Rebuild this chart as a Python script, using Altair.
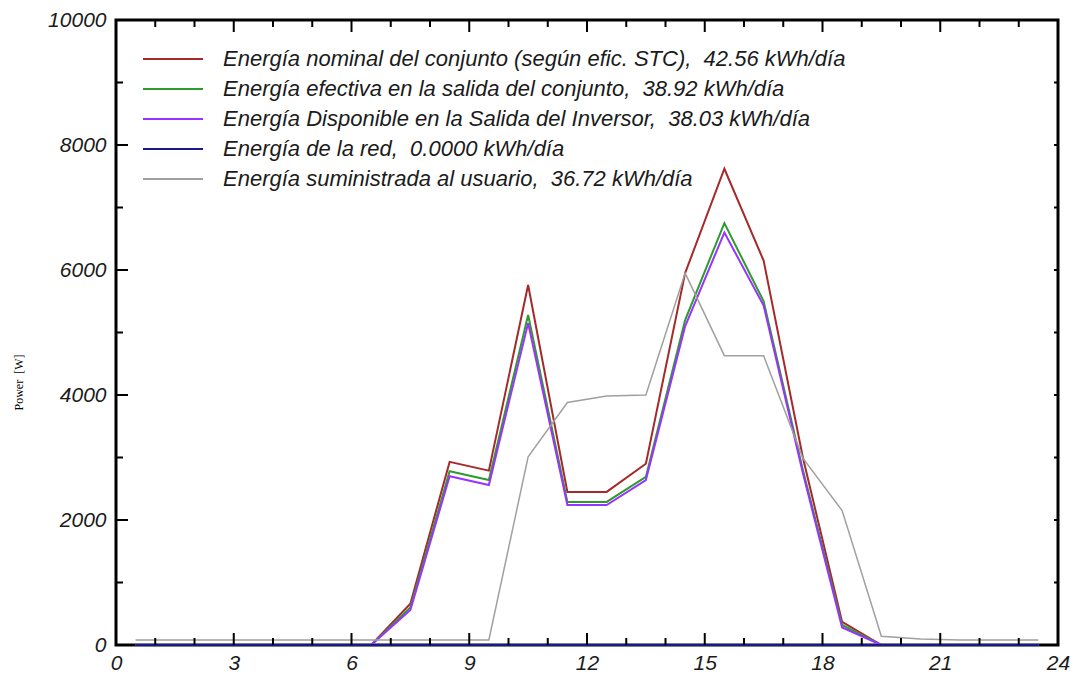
import altair as alt
import pandas as pd

hours = [h + 0.5 for h in range(24)]

labels = [
    "Energía nominal del conjunto (según efic. STC),\u00a0 42.56 kWh/día",
    "Energía efectiva en la salida del conjunto,\u00a0 38.92 kWh/día",
    "Energía Disponible en la Salida del Inversor,\u00a0 38.03 kWh/día",
    "Energía de la red,\u00a0 0.0000 kWh/día",
    "Energía suministrada al usuario,\u00a0 36.72 kWh/día",
]
colors = ["#A52A2A", "#2E9B2E", "#9933FF", "#1A1A8C", "#A0A0A0"]
widths = [2, 2, 2, 2, 1.5]

nominal = [0, 0, 0, 0, 0, 0, 0, 660, 2930, 2790, 5760, 2450, 2450, 2900, 5950, 7620, 6150, 3000, 370, 0, 0, 0, 0, 0]
efectiva = [0, 0, 0, 0, 0, 0, 0, 600, 2780, 2640, 5280, 2290, 2290, 2690, 5200, 6750, 5500, 2800, 320, 0, 0, 0, 0, 0]
disponible = [0, 0, 0, 0, 0, 0, 0, 560, 2700, 2560, 5150, 2240, 2240, 2640, 5100, 6600, 5430, 2750, 280, 0, 0, 0, 0, 0]
red = [0] * 24
usuario = [80, 80, 80, 80, 80, 80, 80, 80, 80, 80, 3010, 3880, 3985, 4000, 5950, 4630, 4630, 2990, 2150, 140, 95, 80, 80, 80]

series = [nominal, efectiva, disponible, red, usuario]

x_major = [0, 3, 6, 9, 12, 15, 18, 21, 24]
x_minor = [h for h in range(25) if h % 3 != 0]
y_major = [0, 2000, 4000, 6000, 8000, 10000]
y_minor = [1000, 3000, 5000, 7000, 9000]

W, H = 942, 625
FONT = "Liberation Sans"
FS = 21
LFS = 22

rows = []
for lab, vals in zip(labels, series):
    for h, v in zip(hours, vals):
        rows.append({"hora": h, "power": v, "serie": lab})
df = pd.DataFrame(rows)

xscale = alt.Scale(domain=[0, 24], nice=False, zero=False)
yscale = alt.Scale(domain=[0, 10000], nice=False)
cscale = alt.Scale(domain=labels, range=colors)

xaxis = alt.Axis(values=x_major, title=None, ticks=False, domain=False, grid=False, format="d",
                 labelFont=FONT, labelFontSize=FS, labelFontStyle="italic",
                 labelColor="#1b1b1b", labelPadding=7, labelFlush=False, labelOverlap=False)
yaxis = alt.Axis(values=y_major, title="Power\u00a0 [W]", ticks=False, domain=False, grid=False, format="d",
                 labelFont=FONT, labelFontSize=FS, labelFontStyle="italic",
                 labelColor="#1b1b1b", labelPadding=10, labelOverlap=False,
                 titleFont="Liberation Serif", titleFontSize=12, titleFontWeight="normal",
                 titleColor="#000000", titleX=-98, titleY=362, titleAngle=-90,
                 titleBaseline="middle", titleAlign="center")
legend = alt.Legend(title=None, orient="none", legendX=26, legendY=29,
                    symbolType="stroke", symbolSize=3600, symbolStrokeWidth=2,
                    clipHeight=20, rowPadding=8, labelOffset=19,
                    labelFont=FONT, labelFontSize=LFS, labelFontStyle="italic",
                    labelColor="#1b1b1b", labelLimit=1000, padding=0)

layers = []
for i, (lab, sw) in enumerate(zip(labels, widths)):
    enc = dict(
        x=alt.X("hora:Q", scale=xscale, axis=xaxis),
        y=alt.Y("power:Q", scale=yscale, axis=yaxis),
        color=alt.Color("serie:N", scale=cscale, sort=labels, legend=legend),
    )
    layers.append(
        alt.Chart(df).transform_filter(alt.datum.serie == lab)
        .mark_line(strokeWidth=sw, clip=False).encode(**enc)
    )

def tick_df(vals):
    return pd.DataFrame({"v": vals})

tick_layers = []
for vals, length in [(x_major, 12), (x_minor, 7)]:
    base = alt.Chart(tick_df(vals)).mark_rule(color="black", strokeWidth=2)
    tick_layers.append(base.encode(x=alt.X("v:Q", scale=xscale, axis=xaxis),
                                   y=alt.value(H), y2=alt.value(H - length)))
    tick_layers.append(base.encode(x=alt.X("v:Q", scale=xscale, axis=xaxis),
                                   y=alt.value(0), y2=alt.value(length)))
for vals, length, rlen in [(y_major, 12, 4), (y_minor, 7, 4)]:
    base = alt.Chart(tick_df(vals)).mark_rule(color="black", strokeWidth=2)
    tick_layers.append(base.encode(y=alt.Y("v:Q", scale=yscale, axis=yaxis),
                                   x=alt.value(0), x2=alt.value(length)))
    tick_layers.append(base.encode(y=alt.Y("v:Q", scale=yscale, axis=yaxis),
                                   x=alt.value(W), x2=alt.value(W - rlen)))

chart = alt.layer(*layers, *tick_layers).properties(
    width=W, height=H,
    background="white",
    autosize=alt.AutoSizeParams(type="none"),
    padding={"left": 108, "top": 12, "right": 12, "bottom": 28},
).configure_view(stroke="black", strokeWidth=3)

chart.save("out.html", embed_options={"renderer": "svg", "actions": False})
